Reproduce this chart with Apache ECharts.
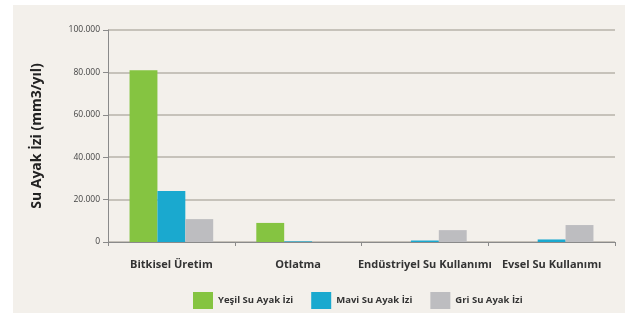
<!DOCTYPE html>
<html>
<head>
<meta charset="utf-8">
<script src="https://cdn.jsdelivr.net/npm/echarts@6/dist/echarts.min.js"></script>
<style>
  html,body{margin:0;padding:0;background:#fff;}
  #chart{position:absolute;left:13px;top:5px;width:612px;height:308px;background:#f3f0eb;}
</style>
</head>
<body>
<div id="chart"></div>
<script>
var categories = ['Bitkisel Üretim', 'Otlatma', 'Endüstriyel Su Kullanımı', 'Evsel Su Kullanımı'];
var yesil = [81000, 9000, 0, 0];
var mavi = [24000, 300, 700, 1200];
var gri = [10800, 0, 5600, 8000];
var seriesNames = ['Yeşil Su Ayak İzi', 'Mavi Su Ayak İzi', 'Gri Su Ayak İzi'];
var colors = ['#85c441', '#1aa9cf', '#bdbdc0'];

var myChart = echarts.init(document.getElementById('chart'));
var fam = '"Open Sans", "DejaVu Sans", sans-serif';
myChart.setOption({
    animation: false,
    color: colors,
    textStyle: {fontFamily: fam},
    grid: {left: 95, right: 10, top: 25, bottom: 71},
    legend: {
        left: 175, top: 282,
        itemWidth: 20, itemHeight: 17, itemGap: 18,
        icon: 'rect',
        textStyle: {fontSize: 9.5, fontWeight: 'bold', color: '#333', fontFamily: fam},
        data: seriesNames
    },
    xAxis: {
        type: 'category',
        data: categories,
        axisLine: {lineStyle: {color: '#8a8a8a', width: 1}},
        axisTick: {show: true, length: 4, lineStyle: {color: '#8a8a8a'}},
        axisLabel: {margin: 17, fontSize: 11, fontWeight: 'bold', color: '#333', interval: 0}
    },
    yAxis: {
        type: 'value',
        min: 0, max: 100000, interval: 20000,
        name: 'Su Ayak İzi (mm3/yıl)',
        nameLocation: 'middle',
        nameRotate: 90,
        nameGap: 64,
        nameTextStyle: {fontSize: 14, fontWeight: 'bold', color: '#222'},
        axisLine: {show: true, lineStyle: {color: '#8a8a8a'}},
        axisTick: {show: true, length: 5, lineStyle: {color: '#8a8a8a'}},
        axisLabel: {
            fontSize: 8.5, color: '#444', margin: 8,
            formatter: function (v) {
                return String(v).replace(/\B(?=(\d{3})+(?!\d))/g, '.');
            }
        },
        splitLine: {lineStyle: {color: '#c6c2ba', width: 2}}
    },
    series: [
        {name: seriesNames[0], type: 'bar', data: yesil, barGap: '0%', barCategoryGap: '34%'},
        {name: seriesNames[1], type: 'bar', data: mavi, barGap: '0%', barCategoryGap: '34%'},
        {name: seriesNames[2], type: 'bar', data: gri, barGap: '0%', barCategoryGap: '34%'}
    ]
});
</script>
</body>
</html>
